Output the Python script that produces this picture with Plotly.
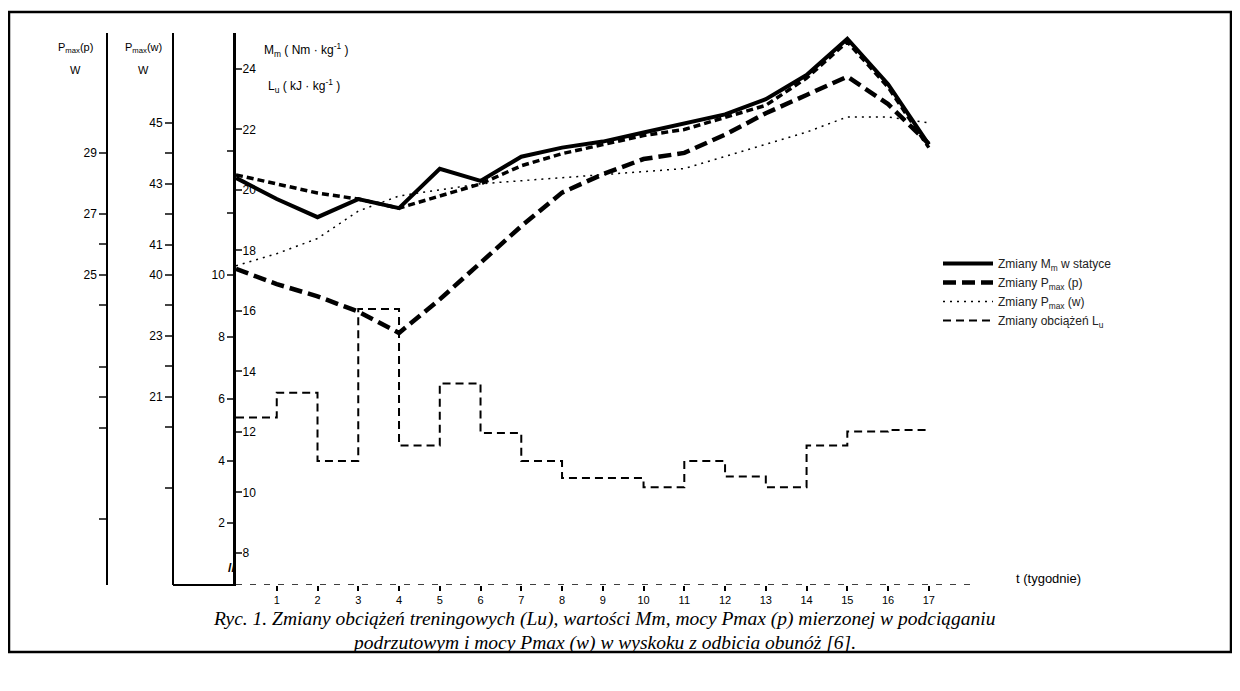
import plotly.graph_objects as go

# page body keeps an 8px margin, so the figure is sized to fit inside it
W, H = 1224, 675
OFF = 8

# weeks 0..17
weeks = list(range(18))

# Mm (Nm/kg) - solid thick line
mm_values = [20.4, 19.7, 19.1, 19.7, 19.4, 20.7, 20.3, 21.1, 21.4, 21.6,
             21.9, 22.2, 22.5, 23.0, 23.8, 25.0, 23.5, 21.5]
# second thick dashed line running alongside Mm
mm_upper = [20.5, 20.2, 19.9, 19.7, 19.4, 19.8, 20.2, 20.8, 21.2, 21.5,
            21.8, 22.0, 22.4, 22.8, 23.7, 24.9, 23.4, 21.4]
# Pmax(p) W
pp_values = [25.2, 24.7, 24.3, 23.8, 23.1, 24.2, 25.4, 26.6, 27.7, 28.3,
             28.8, 29.0, 29.6, 30.3, 30.9, 31.5, 30.6, 29.3]
# Pmax(w) W
pw_values = [40.3, 40.7, 41.2, 42.1, 42.6, 42.8, 43.0, 43.1, 43.2, 43.3,
             43.4, 43.5, 43.9, 44.3, 44.7, 45.2, 45.2, 45.0]
# Lu (kJ/kg) - weekly step values (last value repeated as end point)
lu_values = [5.4, 6.2, 4.0, 8.9, 4.5, 6.5, 4.9, 4.0, 3.45, 3.45,
             3.15, 4.0, 3.5, 3.15, 4.5, 4.95, 5.0, 5.0]

week_ticks = list(range(1, 18))

lu_ticks = [2, 4, 6, 8, 10, 12, 14]
lu_labels = ["2", "4", "6", "8", "10", "", ""]
mm_ticks = [8, 10, 12, 14, 16, 18, 20, 22, 24]
mm_labels = ["8", "10", "12", "14", "16", "18", "20", "22", "24"]
pw_ticks = [33, 35, 36, 37, 38, 39, 40, 41, 42, 43, 44, 45]
pw_labels = ["", "", "21", "", "23", "", "40", "41", "", "43", "", "45"]
pp_ticks = [17, 20, 21, 22, 24, 25, 26, 27, 29]
pp_labels = ["", "", "", "", "", "25", "", "27", "29"]


def px(x):
    return (x - OFF) / W


def py(y):
    return 1 - (y - OFF) / H


tickfont = dict(family="Liberation Sans", size=12, color="black")

fig = go.Figure()
fig.add_trace(go.Scatter(x=weeks, y=mm_values, yaxis="y2", mode="lines",
                         name="Zmiany M<sub>m</sub> w statyce",
                         line=dict(color="black", width=4)))
fig.add_trace(go.Scatter(x=weeks, y=mm_upper, yaxis="y2", mode="lines",
                         showlegend=False,
                         line=dict(color="black", width=3.5, dash="7px,4px")))
fig.add_trace(go.Scatter(x=weeks, y=pp_values, yaxis="y4", mode="lines",
                         name="Zmiany P<sub>max</sub> (p)",
                         line=dict(color="black", width=4.5, dash="13px,6px")))
fig.add_trace(go.Scatter(x=weeks, y=pw_values, yaxis="y3", mode="lines",
                         name="Zmiany P<sub>max</sub> (w)",
                         line=dict(color="black", width=1.5, dash="2px,5px")))
fig.add_trace(go.Scatter(x=weeks, y=lu_values, yaxis="y", mode="lines",
                         line_shape="hv",
                         name="Zmiany obciążeń L<sub>u</sub>",
                         line=dict(color="black", width=2, dash="8px,5px")))

ydom = [py(585), py(33)]

fig.update_layout(
    width=W, height=H,
    margin=dict(l=0, r=0, t=0, b=0),
    paper_bgcolor="white", plot_bgcolor="white",
    font=dict(family="Liberation Sans", size=12, color="black"),
    xaxis=dict(domain=[px(236), px(1100)], range=[0, 21.2],
               showgrid=False, zeroline=False, showline=False,
               tickvals=week_ticks, ticktext=[str(w) for w in week_ticks],
               ticks="outside", ticklen=5, tickwidth=2, tickcolor="black",
               tickfont=dict(family="Liberation Sans", size=11,
                             color="black"),
               automargin=False),
    yaxis=dict(domain=ydom, range=[0, 17.8], anchor="x", side="left",
               showgrid=False, zeroline=False, showline=True,
               linecolor="black", linewidth=2.5,
               tickvals=lu_ticks, ticktext=lu_labels,
               ticks="outside", ticklen=6, tickwidth=1.5,
               tickfont=tickfont, automargin=False),
    yaxis2=dict(domain=ydom, range=[6.94, 25.19], overlaying="y", anchor="x",
                side="left", showgrid=False, zeroline=False, showline=False,
                tickvals=mm_ticks, ticktext=mm_labels,
                ticks="inside", ticklen=6, tickwidth=1.5,
                ticklabelposition="inside",
                tickfont=tickfont, automargin=False),
    yaxis3=dict(domain=ydom, range=[29.8, 47.96], overlaying="y",
                anchor="free", position=px(173), side="left",
                showgrid=False, zeroline=False, showline=True,
                linecolor="black", linewidth=2,
                tickvals=pw_ticks, ticktext=pw_labels,
                ticks="outside", ticklen=7, tickwidth=1.5,
                tickfont=tickfont, automargin=False),
    yaxis4=dict(domain=ydom, range=[14.84, 32.93], overlaying="y",
                anchor="free", position=px(107), side="left",
                showgrid=False, zeroline=False, showline=True,
                linecolor="black", linewidth=1.5,
                tickvals=pp_ticks, ticktext=pp_labels,
                ticks="outside", ticklen=7, tickwidth=1.5,
                tickfont=tickfont, automargin=False),
    legend=dict(x=px(938), y=py(249), xanchor="left", yanchor="top",
                bgcolor="rgba(0,0,0,0)", itemwidth=50, tracegroupgap=0,
                font=dict(family="Liberation Sans", size=12, color="#222")),
    showlegend=True,
)

# frame around figure + caption
fig.add_shape(type="rect", xref="paper", yref="paper",
              x0=px(9), x1=px(1231), y0=py(652), y1=py(12),
              line=dict(color="black", width=2.5))
# x baseline
fig.add_shape(type="line", xref="paper", yref="paper",
              x0=px(173), x1=px(236), y0=py(585), y1=py(585),
              line=dict(color="black", width=2))
fig.add_shape(type="line", xref="x", yref="y", x0=0, x1=18.2, y0=0, y1=0,
              line=dict(color="black", width=1.5, dash="6px,8px"))

ann = [
    (75, 48, "P<sub>max</sub>(p)", 11, "center"),
    (75, 70, "W", 11, "center"),
    (143, 48, "P<sub>max</sub>(w)", 11, "center"),
    (143, 70, "W", 11, "center"),
    (262, 50, "M<sub>m</sub> ( Nm · kg<sup>-1</sup> )", 12, "left"),
    (266, 86, "L<sub>u</sub> ( kJ · kg<sup>-1</sup> )", 12, "left"),
    (1048, 578, "t (tygodnie)", 13, "center"),
    (232, 567, "<b>//</b>", 13, "center"),
]
for x, y, text, size, anchor in ann:
    fig.add_annotation(x=px(x), y=py(y), xref="paper", yref="paper",
                       text=text, showarrow=False, xanchor=anchor,
                       yanchor="middle",
                       font=dict(family="Liberation Sans", size=size,
                                 color="black"))

caption = [
    (619, "<i>Ryc. 1. Zmiany obciążeń treningowych (Lu), wartości Mm, mocy Pmax (p) mierzonej w podciąganiu</i>"),
    (643, "<i>podrzutowym i mocy Pmax (w) w wyskoku z odbicia obunóż [6].</i>"),
]
for y, text in caption:
    fig.add_annotation(x=px(604), y=py(y), xref="paper", yref="paper",
                       text=text, showarrow=False, xanchor="center",
                       yanchor="middle", borderpad=0,
                       font=dict(family="Liberation Serif", size=19.5,
                                 color="black"))

fig.write_html("out.html")
